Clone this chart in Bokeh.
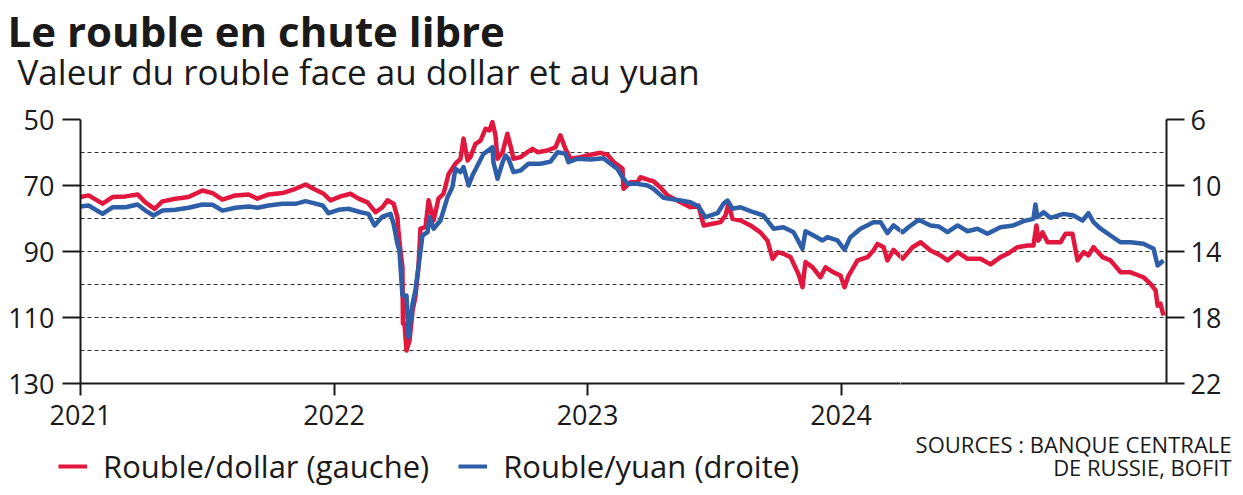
import numpy as np
from bokeh.plotting import figure
from bokeh.layouts import column, row
from bokeh.models import (Range1d, FixedTicker, Legend, LegendItem,
                          ColumnDataSource)
from bokeh.core.properties import value
from bokeh.embed import file_html
from bokeh.resources import INLINE

# ---------------- data ----------------
dollar_year = [
    2021.000, 2021.032, 2021.087, 2021.126, 2021.178, 2021.225, 2021.256, 2021.292, 2021.323, 2021.375,
    2021.426, 2021.481, 2021.521, 2021.560, 2021.611, 2021.663, 2021.698, 2021.742, 2021.797, 2021.848,
    2021.888, 2021.919, 2021.959, 2021.986, 2022.026, 2022.065, 2022.097, 2022.132, 2022.164, 2022.191,
    2022.211, 2022.235, 2022.250, 2022.254, 2022.262, 2022.270, 2022.272, 2022.278, 2022.286, 2022.298,
    2022.310, 2022.321, 2022.333, 2022.341, 2022.361, 2022.373, 2022.393, 2022.412, 2022.432, 2022.452,
    2022.479, 2022.499, 2022.511, 2022.527, 2022.538, 2022.558, 2022.578, 2022.598, 2022.613, 2022.625,
    2022.637, 2022.645, 2022.665, 2022.684, 2022.696, 2022.708, 2022.736, 2022.763, 2022.783, 2022.803,
    2022.842, 2022.874, 2022.893, 2022.913, 2022.933, 2022.972, 2023.012, 2023.051, 2023.079, 2023.103,
    2023.138, 2023.142, 2023.170, 2023.197, 2023.209, 2023.249, 2023.260, 2023.288, 2023.316, 2023.367,
    2023.406, 2023.438, 2023.458, 2023.493, 2023.525, 2023.544, 2023.556, 2023.572, 2023.604, 2023.643,
    2023.682, 2023.710, 2023.730, 2023.750, 2023.773, 2023.801, 2023.832, 2023.848, 2023.860, 2023.888,
    2023.919, 2023.939, 2023.970, 2023.998, 2024.014, 2024.030, 2024.065, 2024.105, 2024.128, 2024.144,
    2024.156, 2024.168, 2024.183, 2024.207, 2024.243, 2024.282, 2024.314, 2024.353, 2024.393, 2024.420,
    2024.460, 2024.499, 2024.550, 2024.590, 2024.629, 2024.657, 2024.696, 2024.736, 2024.759, 2024.771,
    2024.779, 2024.795, 2024.815, 2024.866, 2024.886, 2024.913, 2024.933, 2024.957, 2024.976, 2024.996,
    2025.032, 2025.063, 2025.103, 2025.142, 2025.193, 2025.221, 2025.241, 2025.249, 2025.260, 2025.272,
]
dollar_rate = [
    73.5, 73.0, 75.5, 73.5, 73.3, 72.7, 75.1, 77.1, 74.8, 74.0,
    73.5, 71.5, 72.3, 74.3, 73.0, 72.7, 74.0, 72.7, 72.3, 71.0,
    69.7, 71.0, 72.5, 74.5, 73.3, 72.5, 74.0, 75.1, 78.1, 76.6,
    74.5, 75.5, 79.6, 83.6, 89.7, 94.8, 111.8, 111.8, 120.0, 117.0,
    107.9, 103.8, 94.8, 83.1, 82.6, 74.5, 80.6, 74.0, 72.5, 66.5,
    63.4, 61.9, 55.8, 62.4, 61.4, 57.4, 56.4, 52.8, 53.3, 50.8,
    54.8, 61.9, 59.9, 54.3, 57.9, 61.9, 61.4, 59.9, 58.9, 59.9,
    59.4, 58.4, 54.8, 58.9, 61.9, 61.4, 60.7, 60.1, 60.7, 62.9,
    64.9, 71.0, 69.0, 69.0, 67.5, 68.5, 68.7, 70.6, 73.0, 75.1,
    76.6, 76.1, 82.1, 81.6, 81.1, 79.1, 75.5, 80.1, 80.6, 82.1,
    84.2, 86.7, 92.2, 90.2, 90.7, 91.7, 96.8, 100.8, 93.2, 94.8,
    97.8, 94.8, 96.3, 97.3, 100.8, 97.3, 92.7, 91.7, 89.7, 87.7,
    88.2, 88.7, 92.7, 89.5, 92.2, 88.7, 87.2, 89.7, 91.2, 92.7,
    90.2, 92.2, 92.2, 93.9, 91.7, 90.7, 88.7, 88.2, 88.2, 82.1,
    86.7, 84.2, 87.2, 87.2, 84.6, 84.6, 92.7, 90.2, 91.2, 88.7,
    91.7, 92.7, 96.3, 96.3, 97.8, 99.8, 101.8, 106.4, 105.8, 109.4,
]

yuan_year = [
    2021.000, 2021.032, 2021.087, 2021.126, 2021.178, 2021.225, 2021.256, 2021.288, 2021.323, 2021.375,
    2021.426, 2021.481, 2021.521, 2021.560, 2021.611, 2021.663, 2021.698, 2021.742, 2021.797, 2021.848,
    2021.888, 2021.919, 2021.955, 2021.978, 2022.018, 2022.057, 2022.105, 2022.136, 2022.160, 2022.191,
    2022.223, 2022.235, 2022.250, 2022.258, 2022.270, 2022.286, 2022.294, 2022.310, 2022.321, 2022.333,
    2022.349, 2022.369, 2022.377, 2022.393, 2022.420, 2022.448, 2022.467, 2022.479, 2022.499, 2022.511,
    2022.531, 2022.546, 2022.566, 2022.590, 2022.617, 2022.625, 2022.629, 2022.645, 2022.665, 2022.677,
    2022.688, 2022.708, 2022.736, 2022.767, 2022.815, 2022.854, 2022.882, 2022.913, 2022.925, 2022.961,
    2023.012, 2023.063, 2023.083, 2023.118, 2023.138, 2023.158, 2023.197, 2023.237, 2023.260, 2023.300,
    2023.367, 2023.406, 2023.438, 2023.465, 2023.513, 2023.536, 2023.552, 2023.572, 2023.604, 2023.655,
    2023.694, 2023.734, 2023.773, 2023.813, 2023.848, 2023.860, 2023.892, 2023.927, 2023.947, 2023.986,
    2024.014, 2024.037, 2024.077, 2024.128, 2024.156, 2024.183, 2024.207, 2024.243, 2024.266, 2024.306,
    2024.353, 2024.385, 2024.420, 2024.460, 2024.499, 2024.538, 2024.578, 2024.629, 2024.680, 2024.720,
    2024.759, 2024.767, 2024.775, 2024.799, 2024.826, 2024.878, 2024.917, 2024.953, 2024.976, 2024.996,
    2025.024, 2025.063, 2025.103, 2025.142, 2025.193, 2025.233, 2025.249, 2025.272,
]
yuan_rate = [
    11.27, 11.21, 11.72, 11.32, 11.32, 11.15, 11.52, 11.82, 11.52, 11.47,
    11.35, 11.15, 11.17, 11.52, 11.35, 11.27, 11.35, 11.21, 11.11, 11.11,
    10.95, 11.07, 11.21, 11.68, 11.47, 11.41, 11.62, 11.72, 12.42, 11.88,
    11.72, 12.32, 13.53, 13.94, 16.67, 16.67, 19.19, 17.17, 16.36, 14.95,
    13.03, 12.83, 11.92, 12.62, 12.12, 10.71, 10.10, 8.99, 9.19, 8.89,
    10.00, 9.39, 8.79, 8.08, 7.78, 7.68, 8.59, 9.59, 8.59, 8.18,
    8.38, 9.19, 9.09, 8.68, 8.68, 8.55, 7.98, 8.08, 8.59, 8.38,
    8.42, 8.35, 8.59, 8.99, 9.50, 9.90, 9.90, 10.00, 10.20, 10.75,
    10.91, 11.01, 11.27, 11.92, 11.68, 11.11, 10.91, 11.41, 11.32, 11.62,
    11.82, 12.62, 12.53, 12.83, 13.84, 12.77, 13.03, 13.33, 13.13, 13.33,
    13.90, 13.13, 12.62, 12.22, 12.22, 12.89, 12.42, 12.83, 12.53, 12.08,
    12.42, 12.48, 12.83, 12.42, 12.77, 12.62, 12.93, 12.53, 12.42, 12.16,
    12.02, 11.15, 11.92, 11.62, 11.96, 11.72, 11.82, 12.12, 11.68, 12.22,
    12.62, 13.03, 13.44, 13.44, 13.53, 13.84, 14.85, 14.55,
]

year_ticks = [2021, 2022, 2023, 2024]
left_ticks = [50, 70, 90, 110, 130]
right_ticks = [6, 10, 14, 18, 22]
grid_levels = [50, 60, 70, 80, 90, 100, 110, 120]

title_text = "Le rouble en chute libre"
subtitle_text = "Valeur du rouble face au dollar et au yuan"
label_dollar = "Rouble/dollar (gauche)"
label_yuan = "Rouble/yuan (droite)"
source_lines = ["SOURCES : BANQUE CENTRALE", "DE RUSSIE, BOFIT"]

RED = "#e1173d"
BLUE = "#2f5ea9"
INK = "#1a1a1a"
FONT = "Open Sans"

# ---------------- layout geometry (pixels) ----------------
W, H = 1243, 495
X_START, X_END = 2021, 2025.284
FRAME_L, FRAME_R, FRAME_T, FRAME_B = 80, 1166, 119, 383
PPY = (FRAME_R - FRAME_L) / (X_END - X_START)   # pixels per year
SPLIT = 900                                     # left / right column split
X_SPLIT = X_START + (SPLIT - FRAME_L) / PPY
H_HEAD = 96
LEFT_BOTTOM = 441     # bottom of the left chart part (below year labels)
RIGHT_BOTTOM = 405    # bottom of the right chart part


def rate_to_yuan_scale(v):
    # left scale 50..130 corresponds to right scale 6..22
    return 6 + (v - 50) / 5


def no_align(f):
    try:
        f.frame_align = False
    except Exception:
        pass


def blank(width, height):
    f = figure(width=width, height=height, x_range=Range1d(0, width),
               y_range=Range1d(height, 0), x_axis_type=None,
               y_axis_type=None, output_backend="svg",
               toolbar_location=None, min_border=0)
    f.outline_line_color = None
    f.grid.visible = False
    no_align(f)
    return f


def style_axis(ax, tick_out, standoff, size="27px"):
    ax.minor_tick_line_color = None
    ax.major_tick_in = 0
    ax.major_tick_out = tick_out
    ax.major_tick_line_width = 2
    ax.major_tick_line_color = INK
    ax.axis_line_width = 2
    ax.axis_line_color = INK
    ax.major_label_standoff = standoff
    ax.major_label_text_font = FONT
    ax.major_label_text_font_size = size
    ax.major_label_text_color = INK


def style_grid(f, ticks):
    f.xgrid.visible = False
    f.ygrid.ticker = FixedTicker(ticks=ticks)
    f.ygrid.grid_line_color = "#333333"
    f.ygrid.grid_line_dash = "4 3"
    f.ygrid.grid_line_width = 1


src_d = ColumnDataSource(dict(x=dollar_year, y=dollar_rate))
src_y = ColumnDataSource(dict(x=yuan_year, y=yuan_rate))

# ---------------- header ----------------
head = blank(W, H_HEAD)
head.text(x=[7], y=[30], text=[title_text], text_font=value(FONT),
          text_font_size="42px", text_font_style="bold", text_color=INK,
          text_baseline="alphabetic", text_align="left")
head.text(x=[17], y=[71], text=[subtitle_text], text_font=value(FONT),
          text_font_size="35px", text_color=INK,
          text_baseline="alphabetic", text_align="left")

# ---------------- chart, left part (left axis + year axis) ----------------
h_l = LEFT_BOTTOM - H_HEAD
pl = figure(width=SPLIT, height=h_l,
            x_range=Range1d(X_START, X_SPLIT), y_range=Range1d(130, 50),
            output_backend="svg", toolbar_location=None,
            min_border_left=FRAME_L, min_border_right=0,
            min_border_top=FRAME_T - H_HEAD,
            min_border_bottom=LEFT_BOTTOM - FRAME_B)
pl.outline_line_color = None
no_align(pl)
pl.extra_y_ranges = {"yuan": Range1d(22, 6)}
style_grid(pl, grid_levels)

xa = pl.xaxis[0]
xa.ticker = FixedTicker(ticks=year_ticks)
xa.major_label_overrides = {y: str(y) for y in year_ticks}
style_axis(xa, 12, 9)
ya = pl.yaxis[0]
ya.ticker = FixedTicker(ticks=left_ticks)
style_axis(ya, 18, 8)

pl.line("x", "y", source=src_d, line_color=RED, line_width=4.5,
        line_join="round")
pl.line("x", "y", source=src_y, y_range_name="yuan", line_color=BLUE,
        line_width=4.5, line_join="round")

# ---------------- chart, right part (right axis) ----------------
h_r = RIGHT_BOTTOM - H_HEAD
pr = figure(width=W - SPLIT, height=h_r,
            x_range=Range1d(X_SPLIT, X_END), y_range=Range1d(22, 6),
            y_axis_location="right",
            output_backend="svg", toolbar_location=None,
            min_border_left=0, min_border_right=W - FRAME_R,
            min_border_top=FRAME_T - H_HEAD,
            min_border_bottom=RIGHT_BOTTOM - FRAME_B)
pr.outline_line_color = None
no_align(pr)
pr.extra_y_ranges = {"usd": Range1d(130, 50)}
style_grid(pr, [rate_to_yuan_scale(g) for g in grid_levels])

xr = pr.xaxis[0]
xr.ticker = FixedTicker(ticks=[])
style_axis(xr, 0, 0, "1px")
yr = pr.yaxis[0]
yr.ticker = FixedTicker(ticks=right_ticks)
style_axis(yr, 18, 6)

pr.line("x", "y", source=src_d, y_range_name="usd", line_color=RED,
        line_width=4.5, line_join="round")
pr.line("x", "y", source=src_y, line_color=BLUE, line_width=4.5,
        line_join="round")

# ---------------- legend (below the left part) ----------------
leg_fig = blank(SPLIT, H - LEFT_BOTTOM)
nan = np.array([np.nan])
k_d = leg_fig.line(x=nan, y=nan, line_color=RED, line_width=4)
k_y = leg_fig.line(x=nan, y=nan, line_color=BLUE, line_width=4)
legend = Legend(items=[LegendItem(label=label_dollar, renderers=[k_d]),
                       LegendItem(label=label_yuan, renderers=[k_y])],
                orientation="horizontal", location=(58, 8),
                glyph_width=29, glyph_height=20, label_standoff=16,
                spacing=29, padding=0, margin=0,
                border_line_color=None, background_fill_alpha=0,
                label_text_font=FONT, label_text_font_size="31px",
                label_text_color=INK)
leg_fig.add_layout(legend)

# ---------------- sources (below the right part) ----------------
src_fig = blank(W - SPLIT, H - RIGHT_BOTTOM)
src_fig.text(x=[1231 - SPLIT] * 2,
             y=[443 - RIGHT_BOTTOM, 466 - RIGHT_BOTTOM],
             text=source_lines, text_font=value(FONT), text_font_size="22px",
             text_color=INK, text_baseline="alphabetic", text_align="right")

layout = column(head,
                row(column(pl, leg_fig, spacing=0),
                    column(pr, src_fig, spacing=0), spacing=0),
                spacing=0)
open("out.html", "w").write(file_html(layout, INLINE))
